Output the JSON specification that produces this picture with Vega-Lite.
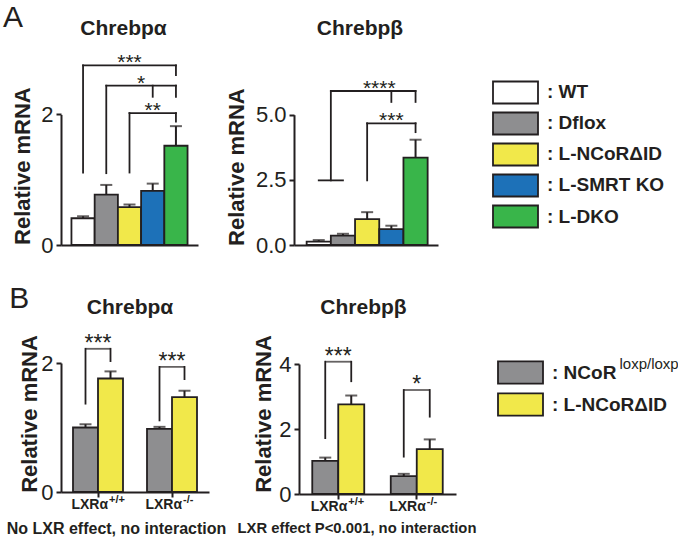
{
  "$schema": "https://vega.github.io/schema/vega-lite/v6.json",
  "background": "white",
  "padding": {"left": 2, "top": 2, "right": 0, "bottom": 0},
  "config": {
    "view": {"stroke": null},
    "font": "Liberation Sans",
    "axis": {"domainColor": "#231f20", "tickColor": "#231f20", "labelColor": "#231f20", "titleColor": "#231f20", "grid": false, "domainWidth": 2, "tickWidth": 2, "tickSize": 5, "labelFontSize": 22, "labelPadding": 3, "titleFontSize": 22, "titleFontWeight": "bold", "labelFont": "Liberation Sans", "titleFont": "Liberation Sans"},
    "title": {"color": "#231f20", "font": "Liberation Sans"}
  },
  "datasets": {
    "aa": [
      {"g": "WT", "v": 0.41, "hi": 0.44},
      {"g": "Dflox", "v": 0.77, "hi": 0.92},
      {"g": "L-NCoRΔID", "v": 0.58, "hi": 0.62},
      {"g": "L-SMRT KO", "v": 0.83, "hi": 0.94},
      {"g": "L-DKO", "v": 1.52, "hi": 1.82}
    ],
    "aaH": [
      {"a": "WT", "b": "L-DKO", "y": 2.75},
      {"a": "Dflox", "b": "L-DKO", "y": 2.44},
      {"a": "L-NCoRΔID", "b": "L-DKO", "y": 2.02}
    ],
    "aaV": [
      {"a": "WT", "y": 1.11, "y2": 2.75},
      {"a": "L-DKO", "y": 2.6, "y2": 2.75},
      {"a": "Dflox", "y": 1.1, "y2": 2.44},
      {"a": "L-SMRT KO", "y": 2.27, "y2": 2.44},
      {"a": "L-DKO", "y": 2.27, "y2": 2.44},
      {"a": "L-NCoRΔID", "y": 1.11, "y2": 2.02},
      {"a": "L-DKO", "y": 1.89, "y2": 2.02}
    ],
    "aaS": [
      {"a": "L-NCoRΔID", "y": 2.75, "s": "***"},
      {"a": "L-SMRT KO", "y": 2.02, "s": "**"}
    ],
    "aaSe": [
      {"a": "L-NCoRΔID", "y": 2.44, "s": "*"}
    ],
    "ab": [
      {"g": "WT", "v": 0.13, "hi": 0.19},
      {"g": "Dflox", "v": 0.36, "hi": 0.43},
      {"g": "L-NCoRΔID", "v": 0.99, "hi": 1.26},
      {"g": "L-SMRT KO", "v": 0.61, "hi": 0.74},
      {"g": "L-DKO", "v": 3.35, "hi": 4.04}
    ],
    "abH": [
      {"a": "WT", "b": "Dflox", "y": 2.48},
      {"a": "L-NCoRΔID", "b": "L-DKO", "y": 4.67}
    ],
    "abHe": [
      {"a": "WT", "b": "L-DKO", "y": 5.91}
    ],
    "abV": [
      {"a": "L-SMRT KO", "y": 5.49, "y2": 5.91},
      {"a": "L-DKO", "y": 5.49, "y2": 5.91},
      {"a": "L-NCoRΔID", "y": 2.48, "y2": 4.67},
      {"a": "L-DKO", "y": 4.33, "y2": 4.67}
    ],
    "abVe": [
      {"a": "WT", "y": 2.48, "y2": 5.91}
    ],
    "abS": [
      {"a": "L-SMRT KO", "y": 4.67, "s": "***"}
    ],
    "abSe": [
      {"a": "L-NCoRΔID", "y": 5.91, "s": "****"}
    ],
    "ba": [
      {"grp": "LXRα+/+", "geno": "NCoR loxp/loxp", "v": 1.0, "hi": 1.05},
      {"grp": "LXRα+/+", "geno": "L-NCoRΔID", "v": 1.76, "hi": 1.87},
      {"grp": "LXRα-/-", "geno": "NCoR loxp/loxp", "v": 0.98, "hi": 1.01},
      {"grp": "LXRα-/-", "geno": "L-NCoRΔID", "v": 1.47, "hi": 1.57}
    ],
    "baV": [
      {"grp": "LXRα+/+", "geno": "NCoR loxp/loxp", "y": 1.37, "y2": 2.22},
      {"grp": "LXRα+/+", "geno": "L-NCoRΔID", "y": 2.03, "y2": 2.22},
      {"grp": "LXRα-/-", "geno": "NCoR loxp/loxp", "y": 1.11, "y2": 1.94},
      {"grp": "LXRα-/-", "geno": "L-NCoRΔID", "y": 1.75, "y2": 1.94}
    ],
    "baH": [
      {"grp": "LXRα+/+", "y": 2.22, "s": "***"},
      {"grp": "LXRα-/-", "y": 1.94, "s": "***"}
    ],
    "bb": [
      {"grp": "LXRα+/+", "geno": "NCoR loxp/loxp", "v": 1.02, "hi": 1.12},
      {"grp": "LXRα+/+", "geno": "L-NCoRΔID", "v": 2.76, "hi": 3.03},
      {"grp": "LXRα-/-", "geno": "NCoR loxp/loxp", "v": 0.55, "hi": 0.62},
      {"grp": "LXRα-/-", "geno": "L-NCoRΔID", "v": 1.38, "hi": 1.68}
    ],
    "bbV": [
      {"grp": "LXRα+/+", "geno": "NCoR loxp/loxp", "y": 1.72, "y2": 4.07},
      {"grp": "LXRα+/+", "geno": "L-NCoRΔID", "y": 3.47, "y2": 4.07},
      {"grp": "LXRα-/-", "geno": "NCoR loxp/loxp", "y": 1.15, "y2": 3.2},
      {"grp": "LXRα-/-", "geno": "L-NCoRΔID", "y": 2.38, "y2": 3.2}
    ],
    "bbH": [
      {"grp": "LXRα+/+", "y": 4.07, "s": "***"},
      {"grp": "LXRα-/-", "y": 3.2, "s": "*"}
    ],
    "lxr": [
      {"grp": "LXRα+/+", "sup": "+/+"},
      {"grp": "LXRα-/-", "sup": "-/-"}
    ],
    "legA": [
      {"g": "WT", "lab": ": WT"},
      {"g": "Dflox", "lab": ": Dflox"},
      {"g": "L-NCoRΔID", "lab": ": L-NCoRΔID"},
      {"g": "L-SMRT KO", "lab": ": L-SMRT KO"},
      {"g": "L-DKO", "lab": ": L-DKO"}
    ],
    "legB": [
      {"g": "NCoR loxp/loxp", "lab": ": NCoR", "sup": "loxp/loxp"},
      {"g": "L-NCoRΔID", "lab": ": L-NCoRΔID", "sup": ""}
    ]
  },
  "spacing": 27,
  "resolve": {"scale": {"x": "independent", "y": "independent", "fill": "independent", "xOffset": "independent"}},
  "vconcat": [
    {
      "title": {"text": "A", "anchor": "start", "frame": "bounds", "fontSize": 30, "fontWeight": "normal", "offset": -45, "dx": -8, "baseline": "bottom"},
      "bounds": "flush",
      "spacing": 96,
      "resolve": {"scale": {"x": "independent", "y": "independent", "fill": "independent"}},
      "hconcat": [
        {
          "width": 137, "height": 196,
          "title": {"text": "Chrebpα", "fontSize": 21, "fontWeight": "bold", "dx": -6, "offset": -10.6, "baseline": "bottom", "anchor": "middle"},
          "layer": [
            {"data": {"name": "aa"}, "mark": {"type": "bar", "stroke": "#231f20", "strokeWidth": 1.8},
             "encoding": {
               "x": {"field": "g", "type": "nominal", "scale": {"domain": ["WT", "Dflox", "L-NCoRΔID", "L-SMRT KO", "L-DKO"], "paddingInner": 0, "paddingOuter": 0.45}, "axis": {"title": null, "labels": false, "ticks": false}},
               "y": {"field": "v", "type": "quantitative", "scale": {"domain": [0, 2], "range": [196, 65.4], "nice": false, "zero": false}, "axis": {"values": [0, 1, 2], "format": "d", "title": "Relative mRNA", "titleX": -39, "titleY": 116.6, "titleBaseline": "middle", "titleAlign": "center"}},
               "fill": {"field": "g", "type": "nominal", "scale": {"domain": ["WT", "Dflox", "L-NCoRΔID", "L-SMRT KO", "L-DKO"], "range": ["#ffffff", "#8e8e90", "#f1e84a", "#1d71b8", "#39b54a"]}, "legend": null}
             }},
            {"data": {"name": "aa"}, "mark": {"type": "rule", "strokeWidth": 2, "color": "#231f20"},
             "encoding": {"x": {"field": "g", "type": "nominal"}, "y": {"field": "v", "type": "quantitative"}, "y2": {"field": "hi"}}},
            {"data": {"name": "aa"}, "mark": {"type": "tick", "thickness": 2, "size": 12, "color": "#231f20"},
             "encoding": {"x": {"field": "g", "type": "nominal"}, "y": {"field": "hi", "type": "quantitative"}}},
            {"data": {"name": "aaH"}, "mark": {"type": "rule", "strokeWidth": 1.8, "color": "#231f20", "strokeCap": "square"},
             "encoding": {"x": {"field": "a", "type": "nominal"}, "x2": {"field": "b"}, "y": {"field": "y", "type": "quantitative"}}},
            {"data": {"name": "aaV"}, "mark": {"type": "rule", "strokeWidth": 1.8, "color": "#231f20", "strokeCap": "square"},
             "encoding": {"x": {"field": "a", "type": "nominal"}, "y": {"field": "y", "type": "quantitative"}, "y2": {"field": "y2"}}},
            {"data": {"name": "aaS"}, "mark": {"type": "text", "fontSize": 21, "dy": 4, "baseline": "alphabetic", "color": "#231f20"},
             "encoding": {"x": {"field": "a", "type": "nominal"}, "y": {"field": "y", "type": "quantitative"}, "text": {"field": "s"}}},
            {"data": {"name": "aaSe"}, "mark": {"type": "text", "fontSize": 21, "dy": 4, "baseline": "alphabetic", "color": "#231f20"},
             "encoding": {"x": {"field": "a", "type": "nominal", "bandPosition": 1}, "y": {"field": "y", "type": "quantitative"}, "text": {"field": "s"}}}
          ]
        },
        {
          "width": 144, "height": 196,
          "title": {"text": "Chrebpβ", "fontSize": 21, "fontWeight": "bold", "dx": -6, "offset": -10.6, "baseline": "bottom", "anchor": "middle"},
          "layer": [
            {"data": {"name": "ab"}, "mark": {"type": "bar", "stroke": "#231f20", "strokeWidth": 1.8},
             "encoding": {
               "x": {"field": "g", "type": "nominal", "scale": {"domain": ["WT", "Dflox", "L-NCoRΔID", "L-SMRT KO", "L-DKO"], "paddingInner": 0, "paddingOuter": 0.475, "align": 0.55}, "axis": {"title": null, "labels": false, "ticks": false}},
               "y": {"field": "v", "type": "quantitative", "scale": {"domain": [0, 5], "range": [196, 65.7], "nice": false, "zero": false}, "axis": {"values": [0, 2.5, 5], "format": ".1f", "title": "Relative mRNA", "titleX": -58, "titleY": 117.6, "titleBaseline": "middle", "titleAlign": "center"}},
               "fill": {"field": "g", "type": "nominal", "scale": {"domain": ["WT", "Dflox", "L-NCoRΔID", "L-SMRT KO", "L-DKO"], "range": ["#ffffff", "#8e8e90", "#f1e84a", "#1d71b8", "#39b54a"]}, "legend": null}
             }},
            {"data": {"name": "ab"}, "mark": {"type": "rule", "strokeWidth": 2, "color": "#231f20"},
             "encoding": {"x": {"field": "g", "type": "nominal"}, "y": {"field": "v", "type": "quantitative"}, "y2": {"field": "hi"}}},
            {"data": {"name": "ab"}, "mark": {"type": "tick", "thickness": 2, "size": 12, "color": "#231f20"},
             "encoding": {"x": {"field": "g", "type": "nominal"}, "y": {"field": "hi", "type": "quantitative"}}},
            {"data": {"name": "abH"}, "mark": {"type": "rule", "strokeWidth": 1.8, "color": "#231f20", "strokeCap": "square"},
             "encoding": {"x": {"field": "a", "type": "nominal"}, "x2": {"field": "b"}, "y": {"field": "y", "type": "quantitative"}}},
            {"data": {"name": "abHe"}, "mark": {"type": "rule", "strokeWidth": 1.8, "color": "#231f20", "strokeCap": "square"},
             "encoding": {"x": {"field": "a", "type": "nominal", "bandPosition": 1}, "x2": {"field": "b", "bandPosition": 0.5}, "y": {"field": "y", "type": "quantitative"}}},
            {"data": {"name": "abV"}, "mark": {"type": "rule", "strokeWidth": 1.8, "color": "#231f20", "strokeCap": "square"},
             "encoding": {"x": {"field": "a", "type": "nominal"}, "y": {"field": "y", "type": "quantitative"}, "y2": {"field": "y2"}}},
            {"data": {"name": "abVe"}, "mark": {"type": "rule", "strokeWidth": 1.8, "color": "#231f20", "strokeCap": "square"},
             "encoding": {"x": {"field": "a", "type": "nominal", "bandPosition": 1}, "y": {"field": "y", "type": "quantitative"}, "y2": {"field": "y2"}}},
            {"data": {"name": "abS"}, "mark": {"type": "text", "fontSize": 21, "dy": 4, "baseline": "alphabetic", "color": "#231f20"},
             "encoding": {"x": {"field": "a", "type": "nominal"}, "y": {"field": "y", "type": "quantitative"}, "text": {"field": "s"}}},
            {"data": {"name": "abSe"}, "mark": {"type": "text", "fontSize": 21, "dy": 4, "baseline": "alphabetic", "color": "#231f20"},
             "encoding": {"x": {"field": "a", "type": "nominal", "bandPosition": 1}, "y": {"field": "y", "type": "quantitative"}, "text": {"field": "s"}}}
          ]
        },
        {
          "width": 140, "height": 196,
          "data": {"name": "legA"},
          "encoding": {"y": {"field": "g", "type": "nominal", "scale": {"domain": ["WT", "Dflox", "L-NCoRΔID", "L-SMRT KO", "L-DKO"], "paddingInner": 0.29, "paddingOuter": 0.806, "align": 0.65}, "axis": null}},
          "layer": [
            {"mark": {"type": "rect", "stroke": "#231f20", "strokeWidth": 1.8},
             "encoding": {
               "x": {"datum": 0, "type": "quantitative", "scale": {"domain": [0, 4], "range": [-41, 139]}, "axis": null},
               "x2": {"datum": 1},
               "fill": {"field": "g", "type": "nominal", "scale": {"domain": ["WT", "Dflox", "L-NCoRΔID", "L-SMRT KO", "L-DKO"], "range": ["#ffffff", "#8e8e90", "#f1e84a", "#1d71b8", "#39b54a"]}, "legend": null}
             }},
            {"mark": {"type": "text", "align": "left", "baseline": "middle", "fontSize": 19, "fontWeight": "bold", "color": "#231f20"},
             "encoding": {"x": {"datum": 1.2, "type": "quantitative"}, "text": {"field": "lab"}}}
          ]
        }
      ]
    },
    {
      "title": {"text": "B", "anchor": "start", "frame": "bounds", "fontSize": 30, "fontWeight": "normal", "offset": -47, "dx": 3, "baseline": "bottom"},
      "bounds": "flush",
      "spacing": 90,
      "resolve": {"scale": {"x": "independent", "y": "independent", "fill": "independent", "xOffset": "independent"}},
      "hconcat": [
        {
          "width": 148, "height": 165,
          "title": {"text": "Chrebpα", "fontSize": 21, "fontWeight": "bold", "dx": -5, "offset": -11.6, "baseline": "bottom", "anchor": "middle"},
          "layer": [
            {"data": {"name": "ba"}, "mark": {"type": "bar", "stroke": "#231f20", "strokeWidth": 1.8},
             "encoding": {
               "x": {"field": "grp", "type": "nominal", "scale": {"domain": ["LXRα+/+", "LXRα-/-"], "paddingInner": 0, "paddingOuter": 0}, "axis": {"labelExpr": "'LXRα'", "labelAngle": 0, "labelAlign": "right", "labelOffset": 10, "labelFontSize": 14, "labelFontWeight": "bold", "labelPadding": 0, "title": "No LXR effect, no interaction", "titleX": 55, "titleY": 36.5, "titleFontSize": 16, "titleFontWeight": "bold", "titleBaseline": "middle", "titleAlign": "center"}},
               "xOffset": {"field": "geno", "type": "nominal", "scale": {"domain": ["NCoR loxp/loxp", "L-NCoRΔID"], "paddingInner": 0, "paddingOuter": 0.48}},
               "y": {"field": "v", "type": "quantitative", "scale": {"domain": [0, 2], "range": [165, 36], "nice": false, "zero": false}, "axis": {"values": [0, 1, 2], "format": "d", "title": "Relative mRNA", "titleX": -32, "titleY": 86.5, "titleBaseline": "middle", "titleAlign": "center"}},
               "fill": {"field": "geno", "type": "nominal", "scale": {"domain": ["NCoR loxp/loxp", "L-NCoRΔID"], "range": ["#8e8e90", "#f1e84a"]}, "legend": null}
             }},
            {"data": {"name": "ba"}, "mark": {"type": "rule", "strokeWidth": 2, "color": "#231f20"},
             "encoding": {"x": {"field": "grp", "type": "nominal"}, "xOffset": {"field": "geno", "type": "nominal"}, "y": {"field": "v", "type": "quantitative"}, "y2": {"field": "hi"}}},
            {"data": {"name": "ba"}, "mark": {"type": "tick", "thickness": 2, "size": 12, "color": "#231f20"},
             "encoding": {"x": {"field": "grp", "type": "nominal"}, "xOffset": {"field": "geno", "type": "nominal"}, "y": {"field": "hi", "type": "quantitative"}}},
            {"data": {"name": "baV"}, "mark": {"type": "rule", "strokeWidth": 1.8, "color": "#231f20", "strokeCap": "square"},
             "encoding": {"x": {"field": "grp", "type": "nominal"}, "xOffset": {"field": "geno", "type": "nominal"}, "y": {"field": "y", "type": "quantitative"}, "y2": {"field": "y2"}}},
            {"data": {"name": "baH"}, "mark": {"type": "tick", "thickness": 1.8, "size": 25, "color": "#231f20"},
             "encoding": {"x": {"field": "grp", "type": "nominal"}, "y": {"field": "y", "type": "quantitative"}}},
            {"data": {"name": "baH"}, "mark": {"type": "text", "fontSize": 23, "dy": 2, "baseline": "alphabetic", "color": "#231f20"},
             "encoding": {"x": {"field": "grp", "type": "nominal"}, "y": {"field": "y", "type": "quantitative"}, "text": {"field": "s"}}},
            {"data": {"name": "lxr"}, "mark": {"type": "text", "fontSize": 11, "fontWeight": "bold", "align": "left", "baseline": "middle", "dx": 11, "dy": 8, "color": "#231f20"},
             "encoding": {"x": {"field": "grp", "type": "nominal"}, "y": {"datum": 0}, "text": {"field": "sup"}}}
          ]
        },
        {
          "width": 157, "height": 167,
          "title": {"text": "Chrebpβ", "fontSize": 21, "fontWeight": "bold", "dx": -14, "offset": -11.6, "baseline": "bottom", "anchor": "middle"},
          "layer": [
            {"data": {"name": "bb"}, "mark": {"type": "bar", "stroke": "#231f20", "strokeWidth": 1.8},
             "encoding": {
               "x": {"field": "grp", "type": "nominal", "scale": {"domain": ["LXRα+/+", "LXRα-/-"], "paddingInner": 0, "paddingOuter": 0}, "axis": {"labelExpr": "'LXRα'", "labelAngle": 0, "labelAlign": "right", "labelOffset": 9, "labelFontSize": 14, "labelFontWeight": "bold", "labelPadding": 0, "title": "LXR effect P<0.001, no interaction", "titleX": 57.5, "titleY": 34.5, "titleFontSize": 14.8, "titleFontWeight": "bold", "titleBaseline": "middle", "titleAlign": "center"}},
               "xOffset": {"field": "geno", "type": "nominal", "scale": {"domain": ["NCoR loxp/loxp", "L-NCoRΔID"], "paddingInner": 0, "paddingOuter": 0.51}},
               "y": {"field": "v", "type": "quantitative", "scale": {"domain": [0, 4], "range": [167, 37], "nice": false, "zero": false}, "axis": {"values": [0, 2, 4], "format": "d", "title": "Relative mRNA", "titleX": -36, "titleY": 86.5, "titleBaseline": "middle", "titleAlign": "center"}},
               "fill": {"field": "geno", "type": "nominal", "scale": {"domain": ["NCoR loxp/loxp", "L-NCoRΔID"], "range": ["#8e8e90", "#f1e84a"]}, "legend": null}
             }},
            {"data": {"name": "bb"}, "mark": {"type": "rule", "strokeWidth": 2, "color": "#231f20"},
             "encoding": {"x": {"field": "grp", "type": "nominal"}, "xOffset": {"field": "geno", "type": "nominal"}, "y": {"field": "v", "type": "quantitative"}, "y2": {"field": "hi"}}},
            {"data": {"name": "bb"}, "mark": {"type": "tick", "thickness": 2, "size": 12, "color": "#231f20"},
             "encoding": {"x": {"field": "grp", "type": "nominal"}, "xOffset": {"field": "geno", "type": "nominal"}, "y": {"field": "hi", "type": "quantitative"}}},
            {"data": {"name": "bbV"}, "mark": {"type": "rule", "strokeWidth": 1.8, "color": "#231f20", "strokeCap": "square"},
             "encoding": {"x": {"field": "grp", "type": "nominal"}, "xOffset": {"field": "geno", "type": "nominal"}, "y": {"field": "y", "type": "quantitative"}, "y2": {"field": "y2"}}},
            {"data": {"name": "bbH"}, "mark": {"type": "tick", "thickness": 1.8, "size": 26, "color": "#231f20"},
             "encoding": {"x": {"field": "grp", "type": "nominal"}, "y": {"field": "y", "type": "quantitative"}}},
            {"data": {"name": "bbH"}, "mark": {"type": "text", "fontSize": 23, "dy": 2, "baseline": "alphabetic", "color": "#231f20"},
             "encoding": {"x": {"field": "grp", "type": "nominal"}, "y": {"field": "y", "type": "quantitative"}, "text": {"field": "s"}}},
            {"data": {"name": "lxr"}, "mark": {"type": "text", "fontSize": 11, "fontWeight": "bold", "align": "left", "baseline": "middle", "dx": 10, "dy": 8, "color": "#231f20"},
             "encoding": {"x": {"field": "grp", "type": "nominal"}, "y": {"datum": 0}, "text": {"field": "sup"}}}
          ]
        },
        {
          "width": 140, "height": 118.4,
          "data": {"name": "legB"},
          "encoding": {"y": {"field": "g", "type": "nominal", "scale": {"domain": ["NCoR loxp/loxp", "L-NCoRΔID"], "paddingInner": 0.3, "paddingOuter": 1, "align": 0.536}, "axis": null}},
          "layer": [
            {"mark": {"type": "rect", "stroke": "#231f20", "strokeWidth": 1.8},
             "encoding": {
               "x": {"datum": 0, "type": "quantitative", "scale": {"domain": [0, 4], "range": [-48, 132]}, "axis": null},
               "x2": {"datum": 1},
               "fill": {"field": "g", "type": "nominal", "scale": {"domain": ["NCoR loxp/loxp", "L-NCoRΔID"], "range": ["#8e8e90", "#f1e84a"]}, "legend": null}
             }},
            {"mark": {"type": "text", "align": "left", "baseline": "middle", "fontSize": 19, "fontWeight": "bold", "color": "#231f20"},
             "encoding": {"x": {"datum": 1.2, "type": "quantitative"}, "text": {"field": "lab"}}},
            {"mark": {"type": "text", "align": "left", "baseline": "middle", "fontSize": 15, "dy": -9, "color": "#231f20"},
             "encoding": {"x": {"datum": 2.7, "type": "quantitative"}, "text": {"field": "sup"}}}
          ]
        }
      ]
    }
  ]
}
